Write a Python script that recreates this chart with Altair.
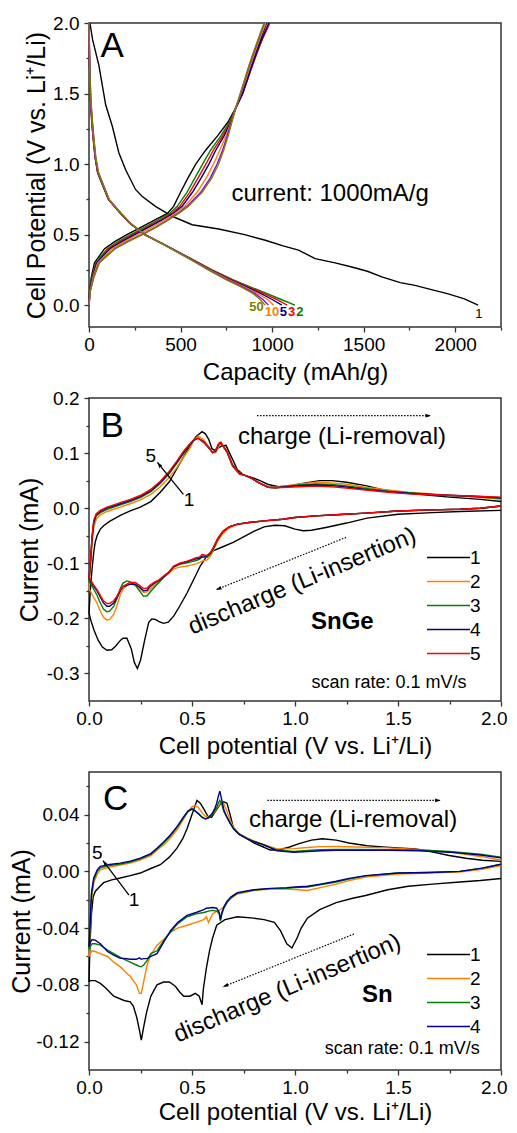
import altair as alt
import pandas as pd

FONT = "Liberation Sans"
FRAME = "#333333"
W = 412

# ======================= Panel A : charge/discharge curves =======================
A_cycles = ["1", "2", "3", "5", "10", "20", "50"]
A_colors = ["#000000", "#008000", "#FF0000", "#00008B", "#FF8000", "#8000FF", "#808000"]

# cycle 1 discharge (black)
A1_dis_cap = [5, 20, 54, 91, 127, 163, 200, 254, 291, 363, 454, 563, 708, 850, 963, 1060, 1144,
              1235, 1344, 1435, 1520, 1599, 1700, 1780, 1870, 1962, 2050, 2125]
A1_dis_v = [2.0, 1.88, 1.70, 1.42, 1.27, 1.08, 0.96, 0.82, 0.77, 0.70, 0.63, 0.57, 0.54, 0.50, 0.46,
            0.42, 0.39, 0.33, 0.30, 0.27, 0.24, 0.20, 0.16, 0.14, 0.11, 0.08, 0.045, 0.0]

# discharge of later cycles (common potential grid)
A_dis_v = [2.0, 1.7, 1.46, 1.3, 1.18, 1.05, 0.94, 0.89, 0.75, 0.655, 0.58, 0.50, 0.42, 0.32, 0.25,
           0.18, 0.13, 0.083, 0.04, 0.0]
A_dis_2 = [0, 3, 8, 15, 23, 33, 47, 61, 106, 168, 222, 303, 425, 570, 672, 785, 880, 970, 1050, 1124]
A_dis_3 = [0, 3, 8, 15, 23, 33, 47, 62, 106, 169, 223, 304, 424, 568, 668, 778, 868, 953, 1025, 1082]
A_dis_5 = [0, 3, 8, 16, 24, 34, 48, 63, 107, 170, 224, 305, 424, 566, 664, 770, 858, 937, 1000, 1053]
A_dis_10 = [0, 4, 9, 17, 25, 35, 50, 65, 108, 171, 225, 305, 423, 563, 660, 762, 848, 920, 975, 1008]
A_dis_20 = [0, 4, 10, 18, 26, 36, 51, 66, 109, 172, 226, 306, 422, 560, 655, 754, 838, 905, 950, 980]
A_dis_50 = [0, 4, 10, 19, 27, 37, 52, 67, 110, 173, 227, 306, 421, 558, 651, 748, 830, 895, 935, 962]

# charge curves (common potential grid)
A_chg_v = [0.0, 0.1, 0.2, 0.3, 0.4, 0.45, 0.5, 0.55, 0.6, 0.65, 0.7, 0.8, 0.9, 1.0, 1.1, 1.2, 1.3,
           1.4, 1.5, 1.6, 1.7, 1.8, 1.9, 2.0]
A_chg_1 = [0, 3, 13, 30, 85, 140, 207, 280, 355, 428, 462, 500, 540, 583, 638, 702, 760, 802, 836, 862, 888, 914, 941, 970]
A_chg_2 = [0, 4, 16, 36, 100, 158, 228, 300, 372, 440, 482, 535, 578, 620, 665, 720, 768, 803, 840, 866, 892, 920, 950, 985]
A_chg_3 = [0, 5, 18, 40, 108, 170, 240, 312, 385, 452, 496, 550, 595, 638, 680, 730, 773, 803, 840, 866, 893, 921, 952, 988]
A_chg_5 = [0, 5, 19, 43, 115, 180, 250, 322, 395, 460, 508, 565, 612, 655, 693, 738, 776, 802, 838, 864, 890, 918, 948, 982]
A_chg_10 = [0, 6, 22, 48, 127, 195, 268, 340, 410, 472, 522, 590, 640, 680, 715, 748, 777, 801, 830, 856, 881, 908, 936, 966]
A_chg_20 = [0, 7, 26, 55, 140, 210, 289, 360, 425, 485, 535, 610, 662, 700, 730, 755, 778, 802, 828, 852, 876, 903, 930, 958]
A_chg_50 = [0, 7, 27, 57, 143, 214, 292, 364, 430, 490, 542, 618, 670, 708, 736, 760, 781, 802, 826, 850, 874, 900, 928, 956]

A_end_text = ["50", "10", "5", "3", "2"]
A_end_cycle = ["50", "10", "5", "3", "2"]
A_end_cap = [915, 999, 1061, 1106, 1152]
A_end_v = [-0.012, -0.048, -0.052, -0.052, -0.048]

# ======================= Panel B : SnGe cyclic voltammetry =======================
B_cycles = ["1", "2", "3", "4", "5"]
B_colors = ["#000000", "#FF8000", "#008000", "#00008B", "#FF0000"]

B1_dis_v = [2.0, 1.8, 1.667, 1.5, 1.35, 1.25, 1.15, 1.08, 1.04, 1.0, 0.95, 0.9, 0.85, 0.8, 0.75, 0.70,
            0.65, 0.605, 0.57, 0.54, 0.51, 0.476, 0.44, 0.411, 0.385, 0.362, 0.34, 0.322, 0.305, 0.29,
            0.27, 0.25, 0.235, 0.22, 0.205, 0.184, 0.165, 0.152, 0.13, 0.11, 0.087, 0.065, 0.045, 0.025,
            0.01, 0.0]
B1_dis_i = [-0.004, -0.006, -0.008, -0.011, -0.018, -0.027, -0.035, -0.040, -0.041, -0.038, -0.032,
            -0.031, -0.034, -0.042, -0.052, -0.062, -0.070, -0.077, -0.088, -0.105, -0.128, -0.154,
            -0.178, -0.196, -0.207, -0.209, -0.206, -0.202, -0.201, -0.207, -0.240, -0.276, -0.291,
            -0.280, -0.255, -0.236, -0.236, -0.240, -0.250, -0.257, -0.258, -0.252, -0.240, -0.222,
            -0.205, -0.190]
B1_chg_v = [0.0, 0.008, 0.015, 0.023, 0.03, 0.039, 0.055, 0.071, 0.1, 0.152, 0.2, 0.249, 0.3, 0.346,
            0.39, 0.427, 0.46, 0.492, 0.52, 0.549, 0.565, 0.581, 0.597, 0.61, 0.625, 0.645, 0.665, 0.69,
            0.72, 0.75, 0.79, 0.83, 0.87, 0.92, 0.98, 1.05, 1.12, 1.18, 1.25, 1.343, 1.42, 1.505, 1.6,
            1.75, 1.9, 2.0]
B1_chg_i = [-0.190, -0.140, -0.110, -0.080, -0.062, -0.050, -0.038, -0.032, -0.024, -0.013, -0.005,
            0.002, 0.012, 0.029, 0.048, 0.072, 0.094, 0.115, 0.130, 0.139, 0.135, 0.125, 0.108, 0.105,
            0.109, 0.113, 0.114, 0.094, 0.070, 0.060, 0.056, 0.050, 0.043, 0.039, 0.041, 0.046, 0.050,
            0.050, 0.047, 0.041, 0.034, 0.029, 0.025, 0.020, 0.016, 0.012]

B_dis_v = [2.0, 1.9, 1.8, 1.667, 1.5, 1.343, 1.2, 1.1, 1.0, 0.94, 0.85, 0.777, 0.72, 0.68, 0.65, 0.625,
           0.605, 0.59, 0.573, 0.56, 0.549, 0.535, 0.52, 0.5, 0.476, 0.44, 0.411, 0.385, 0.362, 0.34,
           0.314, 0.295, 0.282, 0.265, 0.245, 0.225, 0.2, 0.184, 0.165, 0.152, 0.135, 0.12, 0.1, 0.087,
           0.07, 0.05, 0.039, 0.02, 0.006, 0.0]
B_dis_2 = [0.004, 0.0, -0.002, -0.003, -0.005, -0.009, -0.012, -0.014, -0.017, -0.020, -0.023, -0.026,
           -0.030, -0.036, -0.046, -0.060, -0.076, -0.087, -0.094, -0.095, -0.096, -0.099, -0.101, -0.103,
           -0.105, -0.107, -0.110, -0.119, -0.125, -0.133, -0.141, -0.148, -0.152, -0.153, -0.146, -0.139,
           -0.138, -0.140, -0.147, -0.157, -0.178, -0.193, -0.202, -0.203, -0.198, -0.183, -0.172, -0.160,
           -0.150, -0.146]
B_dis_3 = [0.004, 0.0, -0.002, -0.003, -0.005, -0.009, -0.012, -0.014, -0.017, -0.020, -0.023, -0.026,
           -0.029, -0.034, -0.043, -0.057, -0.073, -0.083, -0.089, -0.089, -0.089, -0.093, -0.095, -0.097,
           -0.099, -0.102, -0.107, -0.118, -0.126, -0.135, -0.145, -0.153, -0.159, -0.160, -0.150, -0.140,
           -0.134, -0.132, -0.136, -0.146, -0.165, -0.178, -0.187, -0.188, -0.183, -0.168, -0.158, -0.145,
           -0.136, -0.132]
B_dis_4 = [0.004, 0.0, -0.002, -0.003, -0.005, -0.009, -0.012, -0.014, -0.017, -0.020, -0.023, -0.026,
           -0.029, -0.034, -0.042, -0.055, -0.071, -0.081, -0.087, -0.087, -0.087, -0.091, -0.092, -0.094,
           -0.097, -0.101, -0.106, -0.117, -0.124, -0.131, -0.137, -0.143, -0.149, -0.150, -0.143, -0.138,
           -0.138, -0.140, -0.143, -0.150, -0.163, -0.172, -0.178, -0.178, -0.172, -0.158, -0.150, -0.140,
           -0.131, -0.127]
B_dis_5 = [0.004, 0.0, -0.002, -0.003, -0.005, -0.009, -0.012, -0.014, -0.017, -0.020, -0.023, -0.026,
           -0.029, -0.034, -0.042, -0.055, -0.070, -0.080, -0.086, -0.085, -0.084, -0.089, -0.090, -0.093,
           -0.096, -0.100, -0.105, -0.117, -0.123, -0.130, -0.135, -0.140, -0.145, -0.146, -0.140, -0.135,
           -0.135, -0.138, -0.142, -0.148, -0.160, -0.168, -0.173, -0.173, -0.168, -0.155, -0.148, -0.138,
           -0.129, -0.125]

B_chg_v = [0.0, 0.008, 0.015, 0.023, 0.035, 0.055, 0.087, 0.12, 0.152, 0.2, 0.249, 0.3, 0.346, 0.39,
           0.427, 0.46, 0.492, 0.51, 0.53, 0.557, 0.58, 0.6, 0.615, 0.63, 0.64, 0.655, 0.67, 0.696, 0.73,
           0.76, 0.79, 0.825, 0.87, 0.906, 0.96, 1.02, 1.1, 1.18, 1.26, 1.343, 1.45, 1.55, 1.7, 1.85, 2.0]
B_chg_2 = [-0.146, -0.105, -0.065, -0.035, -0.020, -0.012, -0.006, -0.002, 0.002, 0.008, 0.015, 0.025,
           0.039, 0.056, 0.074, 0.093, 0.110, 0.124, 0.131, 0.124, 0.112, 0.101, 0.100, 0.112, 0.117,
           0.112, 0.104, 0.080, 0.064, 0.059, 0.054, 0.046, 0.038, 0.038, 0.041, 0.044, 0.047, 0.046,
           0.043, 0.038, 0.033, 0.029, 0.025, 0.021, 0.016]
B_chg_3 = [-0.132, -0.095, -0.056, -0.028, -0.014, -0.008, -0.002, 0.002, 0.006, 0.012, 0.019, 0.030,
           0.045, 0.063, 0.082, 0.100, 0.115, 0.123, 0.127, 0.121, 0.111, 0.101, 0.103, 0.116, 0.119,
           0.111, 0.103, 0.079, 0.063, 0.059, 0.054, 0.046, 0.038, 0.037, 0.040, 0.042, 0.044, 0.043,
           0.040, 0.036, 0.031, 0.028, 0.024, 0.021, 0.018]
B_chg_4 = [-0.127, -0.092, -0.053, -0.025, -0.012, -0.006, 0.000, 0.004, 0.008, 0.014, 0.021, 0.032,
           0.047, 0.065, 0.084, 0.102, 0.117, 0.124, 0.127, 0.120, 0.110, 0.101, 0.104, 0.117, 0.119,
           0.110, 0.102, 0.078, 0.063, 0.059, 0.054, 0.046, 0.038, 0.037, 0.039, 0.041, 0.042, 0.041,
           0.038, 0.034, 0.030, 0.027, 0.024, 0.022, 0.019]
B_chg_5 = [-0.125, -0.09, -0.05, -0.022, -0.010, -0.004, 0.002, 0.006, 0.010, 0.016, 0.023, 0.034,
           0.049, 0.067, 0.086, 0.104, 0.118, 0.125, 0.127, 0.119, 0.110, 0.101, 0.105, 0.118, 0.120,
           0.110, 0.102, 0.077, 0.062, 0.059, 0.054, 0.046, 0.038, 0.037, 0.038, 0.039, 0.040, 0.039,
           0.036, 0.033, 0.029, 0.026, 0.024, 0.022, 0.020]

# ======================= Panel C : Sn cyclic voltammetry =======================
C_cycles = ["1", "2", "3", "4"]
C_colors = ["#000000", "#FF8000", "#008000", "#00008B"]

C1_dis_v = [2.0, 1.9, 1.8, 1.667, 1.55, 1.45, 1.343, 1.28, 1.2, 1.12, 1.06, 1.03, 1.01, 0.985, 0.96,
            0.93, 0.9, 0.85, 0.8, 0.72, 0.66, 0.62, 0.6, 0.585, 0.57, 0.555, 0.549, 0.535, 0.516, 0.49,
            0.46, 0.44, 0.419, 0.39, 0.362, 0.33, 0.3, 0.28, 0.265, 0.254, 0.245, 0.232, 0.215, 0.2,
            0.17, 0.12, 0.08, 0.055, 0.03, 0.006, 0.0]
C1_dis_i = [-0.005, -0.0065, -0.0075, -0.009, -0.0105, -0.013, -0.017, -0.019, -0.022, -0.027, -0.033,
            -0.040, -0.047, -0.054, -0.051, -0.042, -0.036, -0.034, -0.033, -0.032, -0.034, -0.038,
            -0.047, -0.056, -0.068, -0.083, -0.094, -0.088, -0.086, -0.088, -0.088, -0.085, -0.081,
            -0.078, -0.078, -0.080, -0.088, -0.099, -0.110, -0.119, -0.112, -0.103, -0.095, -0.092,
            -0.091, -0.088, -0.082, -0.079, -0.077, -0.077, -0.078]
C1_chg_v = [0.0, 0.005, 0.012, 0.02, 0.031, 0.05, 0.071, 0.11, 0.152, 0.2, 0.249, 0.3, 0.346, 0.39,
            0.427, 0.455, 0.476, 0.5, 0.524, 0.54, 0.557, 0.58, 0.595, 0.613, 0.635, 0.654, 0.67, 0.685,
            0.702, 0.73, 0.751, 0.8, 0.841, 0.88, 0.92, 0.97, 1.02, 1.08, 1.133, 1.2, 1.262, 1.35, 1.424,
            1.5, 1.586, 1.67, 1.748, 1.83, 1.909, 2.0]
C1_chg_i = [-0.078, -0.050, -0.030, -0.018, -0.014, -0.011, -0.008, -0.006, -0.0047, -0.003, -0.0012,
            0.002, 0.0047, 0.010, 0.0163, 0.023, 0.030, 0.040, 0.050, 0.048, 0.044, 0.038, 0.038, 0.042,
            0.047, 0.049, 0.048, 0.040, 0.030, 0.026, 0.0244, 0.020, 0.0175, 0.015, 0.015, 0.017, 0.0195,
            0.022, 0.023, 0.022, 0.020, 0.018, 0.0172, 0.0165, 0.0158, 0.0135, 0.0112, 0.0092, 0.0078,
            0.007]

C_dis_v = [2.0, 1.909, 1.8, 1.65, 1.5, 1.343, 1.262, 1.2, 1.123, 1.06, 1.0, 0.96, 0.88, 0.8, 0.72, 0.69,
           0.67, 0.655, 0.645, 0.638, 0.632, 0.62, 0.6, 0.58, 0.57, 0.557, 0.52, 0.476, 0.43, 0.395,
           0.362, 0.33, 0.3, 0.282, 0.265, 0.254, 0.245, 0.23, 0.2, 0.184, 0.15, 0.12, 0.09, 0.055, 0.03,
           0.015, 0.006, 0.0]
C_dis_2 = [0.004, 0.0015, -0.0005, -0.0012, -0.002, -0.004, -0.0065, -0.009, -0.0115, -0.0135, -0.0128,
           -0.0125, -0.0125, -0.0135, -0.016, -0.019, -0.022, -0.025, -0.026, -0.027, -0.0275, -0.028,
           -0.030, -0.036, -0.032, -0.034, -0.036, -0.038, -0.040, -0.043, -0.048, -0.052, -0.059,
           -0.066, -0.078, -0.086, -0.086, -0.080, -0.074, -0.072, -0.067, -0.064, -0.060, -0.058,
           -0.0565, -0.056, -0.058, -0.060]
C_dis_3 = [0.005, 0.0023, 0.0, -0.0008, -0.0012, -0.0032, -0.0055, -0.0075, -0.0095, -0.011, -0.0115,
           -0.012, -0.0122, -0.0132, -0.0155, -0.0185, -0.022, -0.026, -0.030, -0.035, -0.030, -0.028,
           -0.0275, -0.028, -0.0285, -0.029, -0.030, -0.032, -0.037, -0.043, -0.049, -0.056, -0.058,
           -0.063, -0.066, -0.0672, -0.067, -0.066, -0.064, -0.063, -0.0605, -0.058, -0.0555, -0.052,
           -0.051, -0.051, -0.053, -0.055]
C_dis_4 = [0.005, 0.0023, 0.0, -0.0008, -0.0012, -0.003, -0.005, -0.007, -0.009, -0.0105, -0.011,
           -0.0115, -0.012, -0.013, -0.015, -0.018, -0.021, -0.025, -0.029, -0.034, -0.029, -0.026,
           -0.0255, -0.0258, -0.026, -0.027, -0.029, -0.031, -0.036, -0.042, -0.050, -0.058, -0.060,
           -0.0615, -0.0615, -0.062, -0.061, -0.062, -0.062, -0.0616, -0.0612, -0.059, -0.0565, -0.051,
           -0.0485, -0.048, -0.050, -0.053]

C_chg_v = [0.0, 0.006, 0.012, 0.023, 0.04, 0.055, 0.1, 0.152, 0.2, 0.249, 0.3, 0.33, 0.365, 0.395,
           0.43, 0.46, 0.48, 0.5, 0.516, 0.532, 0.55, 0.565, 0.58, 0.597, 0.61, 0.62, 0.628, 0.635,
           0.645, 0.655, 0.67, 0.685, 0.702, 0.73, 0.767, 0.8, 0.848, 0.913, 0.994, 1.06, 1.123, 1.2,
           1.3, 1.45, 1.6, 1.75, 1.9, 2.0]
C_chg_2 = [-0.060, -0.040, -0.020, -0.008, -0.002, 0.001, 0.003, 0.0045, 0.0058, 0.008, 0.011, 0.0148,
           0.019, 0.0235, 0.030, 0.037, 0.042, 0.0455, 0.0465, 0.0448, 0.041, 0.0388, 0.0386, 0.040,
           0.042, 0.0445, 0.046, 0.0475, 0.0488, 0.0475, 0.042, 0.036, 0.031, 0.0265, 0.0235, 0.0215,
           0.019, 0.0158, 0.016, 0.0168, 0.0174, 0.0175, 0.0172, 0.0165, 0.0155, 0.0135, 0.0105, 0.008]
C_chg_3 = [-0.055, -0.037, -0.017, -0.006, 0.0, 0.0025, 0.004, 0.0052, 0.0066, 0.0088, 0.012, 0.0158,
           0.0205, 0.025, 0.0315, 0.038, 0.042, 0.0438, 0.0425, 0.0405, 0.038, 0.0368, 0.0375, 0.040,
           0.0425, 0.045, 0.048, 0.050, 0.047, 0.042, 0.038, 0.034, 0.030, 0.026, 0.023, 0.021, 0.0186,
           0.015, 0.014, 0.0148, 0.0152, 0.0155, 0.0155, 0.0153, 0.015, 0.014, 0.012, 0.010]
C_chg_4 = [-0.053, -0.035, -0.015, -0.0047, 0.001, 0.0035, 0.0048, 0.0058, 0.0072, 0.0093, 0.0125,
           0.0163, 0.021, 0.0256, 0.032, 0.0385, 0.0425, 0.044, 0.0425, 0.0405, 0.038, 0.037, 0.038,
           0.0405, 0.044, 0.048, 0.053, 0.0565, 0.050, 0.043, 0.038, 0.034, 0.030, 0.026, 0.023, 0.021,
           0.0186, 0.0145, 0.0135, 0.014, 0.0145, 0.0148, 0.0148, 0.0148, 0.0145, 0.0135, 0.0115, 0.0095]

# ---------------- tick values ----------------
A_xticks = [0, 250, 500, 750, 1000, 1250, 1500, 1750, 2000, 2250]
A_yticks = [0.0, 0.25, 0.5, 0.75, 1.0, 1.25, 1.5, 1.75, 2.0]
V_ticks = [0.0, 0.25, 0.5, 0.75, 1.0, 1.25, 1.5, 1.75, 2.0]
B_yticks = [-0.3, -0.25, -0.2, -0.15, -0.1, -0.05, 0.0, 0.05, 0.1, 0.15, 0.2]
C_yticks = [-0.12, -0.10, -0.08, -0.06, -0.04, -0.02, 0.0, 0.02, 0.04, 0.06]


def rows_from(cycle, seg, xs, ys):
    assert len(xs) == len(ys), (cycle, seg, len(xs), len(ys))
    return [{"cycle": cycle, "seg": f"{cycle}-{seg}", "idx": i, "x": x, "y": y}
            for i, (x, y) in enumerate(zip(xs, ys))]


rowsA = rows_from("1", "d", A1_dis_cap, A1_dis_v) + rows_from("1", "c", A_chg_1, A_chg_v)
for cyc, d, c in [("2", A_dis_2, A_chg_2), ("3", A_dis_3, A_chg_3), ("5", A_dis_5, A_chg_5),
                  ("10", A_dis_10, A_chg_10), ("20", A_dis_20, A_chg_20), ("50", A_dis_50, A_chg_50)]:
    rowsA += rows_from(cyc, "d", d, A_dis_v) + rows_from(cyc, "c", c, A_chg_v)
dfA = pd.DataFrame(rowsA)

rowsB = rows_from("1", "d", B1_dis_v, B1_dis_i) + rows_from("1", "c", B1_chg_v, B1_chg_i)
for cyc, d, c in [("2", B_dis_2, B_chg_2), ("3", B_dis_3, B_chg_3), ("4", B_dis_4, B_chg_4),
                  ("5", B_dis_5, B_chg_5)]:
    rowsB += rows_from(cyc, "d", B_dis_v, d) + rows_from(cyc, "c", B_chg_v, c)
dfB = pd.DataFrame(rowsB)

rowsC = rows_from("1", "d", C1_dis_v, C1_dis_i) + rows_from("1", "c", C1_chg_v, C1_chg_i)
for cyc, d, c in [("2", C_dis_2, C_chg_2), ("3", C_dis_3, C_chg_3), ("4", C_dis_4, C_chg_4)]:
    rowsC += rows_from(cyc, "d", C_dis_v, d) + rows_from(cyc, "c", C_chg_v, c)
dfC = pd.DataFrame(rowsC)

MINUS = "\u2212"


def axis(orient, values, test, fmt, title, tpos, last=None):
    common = dict(
        values=values, format=fmt,
        labelExpr=f"({test}) ? replace(datum.label, '{MINUS}', '-') : ''",
        tickSize={"condition": {"test": test, "value": 5}, "value": 3},
        tickColor=FRAME, tickWidth=1.3, domain=False, grid=False,
        labelFont=FONT, labelFontSize=19, labelColor="black", labelOverlap=False,
        title=title, titleFont=FONT, titleFontWeight="normal", titleColor="black",
    )
    if orient == "x":
        extra = {}
        if last is not None:
            # keep the right-most label inside the page
            extra = dict(
                labelAlign={"condition": {"test": f"datum.value >= {last}", "value": "right"}, "value": "center"},
                labelOffset={"condition": {"test": f"datum.value >= {last}", "value": 6}, "value": 0},
            )
        return alt.Axis(labelPadding=3, labelFlush=False, titleY=tpos, titleBaseline="alphabetic",
                        titleFontSize=24, **extra, **common)
    return alt.Axis(labelPadding=5, titleX=tpos, titleBaseline="middle", titleFontSize=25, **common)


def text_layer(df, x, y, **kw):
    return alt.Chart(df).mark_text(font=FONT, align="center", baseline="middle", **kw).encode(x=x, y=y, text="t:N")


def arrow_layers(x1, y1, x2, y2, ang, x, y, dashed=True, size=30):
    d = pd.DataFrame({"x": [x1, x2], "y": [y1, y2], "idx": [0, 1]})
    kw = dict(strokeDash=[1.5, 1.5], strokeWidth=1.2) if dashed else dict(strokeWidth=1.3)
    line = alt.Chart(d).mark_line(color="black", **kw).encode(x=x, y=y, order="idx:Q")
    head = alt.Chart(pd.DataFrame({"x": [x2], "y": [y2]})).mark_point(
        shape="M0,0L-2,-0.7L-2,0.7Z", filled=True, color="black", opacity=1, size=size, angle=ang,
        strokeWidth=0).encode(x=x, y=y)
    return [line, head]


def legend(ly):
    return alt.Legend(orient="none", legendX=350, legendY=ly, title=None, symbolType="M-8.6,0H8.6",
                      symbolSize=25, symbolStrokeWidth=1.6, labelFont=FONT, labelFontSize=19,
                      labelColor="black", labelOffset=12, rowPadding=4, padding=0)


# ======================= Panel A chart =======================
xA = alt.X("x:Q", scale=alt.Scale(domain=[0, 2250], nice=False, zero=False),
           axis=axis("x", A_xticks, "datum.value % 500 === 0", "d", "Capacity (mAh/g)", 52))
yA = alt.Y("y:Q", scale=alt.Scale(domain=[-0.155, 2.0], nice=False, zero=False),
           axis=axis("y", A_yticks, "round(datum.value*4) % 2 === 0", ".1f",
                     "Cell Potential (V vs. Li\u207a/Li)", -53))
colA = alt.Color("cycle:N", scale=alt.Scale(domain=A_cycles, range=A_colors), legend=None)

linesA = alt.Chart(dfA).mark_line(strokeWidth=1.4).encode(x=xA, y=yA, color=colA, detail="seg:N", order="idx:Q")
endA = alt.Chart(pd.DataFrame({"t": A_end_text, "cycle": A_end_cycle, "x": A_end_cap, "y": A_end_v})).mark_text(
    font=FONT, fontSize=13, fontWeight="bold", align="center", baseline="middle").encode(
    x=xA, y=yA, text="t:N", color=colA)
oneA = text_layer(pd.DataFrame({"t": ["1"], "x": [2129], "y": [-0.06]}), xA, yA, fontSize=13, color="black")
letA = text_layer(pd.DataFrame({"t": ["A"], "x": [127], "y": [1.834]}), xA, yA, fontSize=35, color="black")
curA = text_layer(pd.DataFrame({"t": ["current: 1000mA/g"], "x": [1317], "y": [0.786]}), xA, yA,
                  fontSize=24, color="black")
panelA = alt.layer(linesA, endA, oneA, letA, curA).properties(width=W, height=304)

# ======================= Panel B chart =======================
xB = alt.X("x:Q", scale=alt.Scale(domain=[0, 2.0], nice=False, zero=False),
           axis=axis("x", V_ticks, "round(datum.value*4) % 2 === 0", ".1f",
                     "Cell potential (V vs. Li\u207a/Li)", 52, last=2))
yB = alt.Y("y:Q", scale=alt.Scale(domain=[-0.35, 0.2], nice=False, zero=False),
           axis=axis("y", B_yticks, "round(datum.value*20) % 2 === 0", ".1f", "Current (mA)", -60))
colB = alt.Color("cycle:N", scale=alt.Scale(domain=B_cycles, range=B_colors), legend=legend(150))
linesB = alt.Chart(dfB).mark_line(strokeWidth=1.4).encode(x=xB, y=yB, color=colB, detail="seg:N", order="idx:Q")
layersB = [linesB,
           text_layer(pd.DataFrame({"t": ["B"], "x": [0.113], "y": [0.150]}), xB, yB, fontSize=35, color="black"),
           text_layer(pd.DataFrame({"t": ["charge (Li-removal)"], "x": [1.228], "y": [0.129]}), xB, yB,
                      fontSize=24, color="black"),
           text_layer(pd.DataFrame({"t": ["discharge (Li-insertion)"], "x": [1.035], "y": [-0.133]}), xB, yB,
                      fontSize=24, color="black", angle=337.5),
           text_layer(pd.DataFrame({"t": ["SnGe"], "x": [1.23], "y": [-0.206]}), xB, yB,
                      fontSize=24, fontWeight="bold", color="black"),
           text_layer(pd.DataFrame({"t": ["scan rate: 0.1 mV/s"], "x": [1.456], "y": [-0.318]}), xB, yB,
                      fontSize=18, color="black"),
           text_layer(pd.DataFrame({"t": ["5", "1"], "x": [0.30, 0.485], "y": [0.094, 0.014]}), xB, yB,
                      fontSize=19, color="black")]
layersB += arrow_layers(0.816, 0.168, 1.66, 0.168, 0, xB, yB)
layersB += arrow_layers(1.248, -0.053, 0.617, -0.148, 158, xB, yB)
layersB += arrow_layers(0.458, 0.025, 0.332, 0.083, 231, xB, yB, dashed=False)
panelB = alt.layer(*layersB).properties(width=W, height=303)

# ======================= Panel C chart =======================
xC = alt.X("x:Q", scale=alt.Scale(domain=[0, 2.0], nice=False, zero=False),
           axis=axis("x", V_ticks, "round(datum.value*4) % 2 === 0", ".1f",
                     "Cell potential (V vs. Li\u207a/Li)", 49, last=2))
yC = alt.Y("y:Q", scale=alt.Scale(domain=[-0.14, 0.07], nice=False, zero=False),
           axis=axis("y", C_yticks, "round(datum.value*50) % 2 === 0", ".2f", "Current (mA)", -68))
colC = alt.Color("cycle:N", scale=alt.Scale(domain=C_cycles, range=C_colors), legend=legend(173))
linesC = alt.Chart(dfC).mark_line(strokeWidth=1.4).encode(x=xC, y=yC, color=colC, detail="seg:N", order="idx:Q")
layersC = [linesC,
           text_layer(pd.DataFrame({"t": ["C"], "x": [0.129], "y": [0.0512]}), xC, yC, fontSize=35, color="black"),
           text_layer(pd.DataFrame({"t": ["charge (Li-removal)"], "x": [1.282], "y": [0.0361]}), xC, yC,
                      fontSize=24, color="black"),
           text_layer(pd.DataFrame({"t": ["discharge (Li-insertion)"], "x": [0.963], "y": [-0.0826]}), xC, yC,
                      fontSize=24, color="black", angle=337),
           text_layer(pd.DataFrame({"t": ["Sn"], "x": [1.40], "y": [-0.0872]}), xC, yC,
                      fontSize=24, fontWeight="bold", color="black"),
           text_layer(pd.DataFrame({"t": ["scan rate: 0.1 mV/s"], "x": [1.521], "y": [-0.1251]}), xC, yC,
                      fontSize=18, color="black"),
           text_layer(pd.DataFrame({"t": ["5", "1"], "x": [0.040, 0.218], "y": [0.0128, -0.0204]}), xC, yC,
                      fontSize=19, color="black")]
layersC += arrow_layers(0.866, 0.050, 1.707, 0.050, 0, xC, yC)
layersC += arrow_layers(1.286, -0.0442, 0.650, -0.0814, 158, xC, yC)
layersC += arrow_layers(0.194, -0.0167, 0.068, 0.0075, 233, xC, yC, dashed=False)
panelC = alt.layer(*layersC).properties(width=W, height=298)

chart = alt.vconcat(panelA, panelB, panelC, spacing=71, bounds="flush").resolve_scale(
    color="independent", x="independent", y="independent"
).properties(
    padding={"left": 0, "top": 5, "right": 0, "bottom": 0}
).configure(font=FONT).configure_view(stroke=FRAME, strokeWidth=1.5)

chart.save("out.html", embed_options={"renderer": "svg", "actions": False})
